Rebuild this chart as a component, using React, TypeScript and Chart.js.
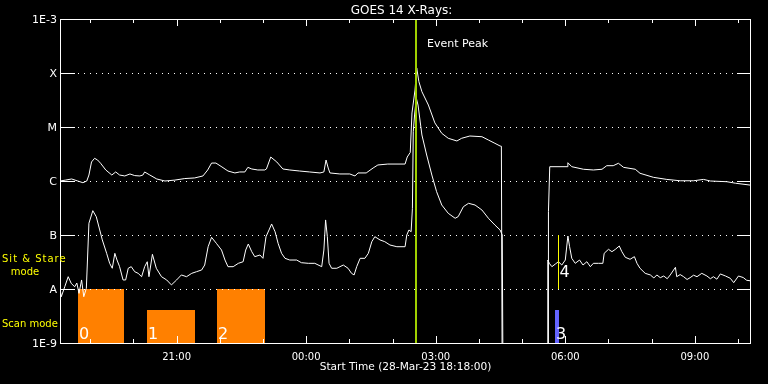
import React, { useEffect, useRef } from "react";
import { Chart, registerables } from "chart.js";

Chart.register(...registerables);

// Hours after start time (28-Mar-23 18:18:00)
const longHours = [
  0.0, 0.13, 0.27, 0.41, 0.53, 0.62, 0.67, 0.73, 0.8, 0.87, 0.94, 1.06, 1.2, 1.29, 1.38, 1.5, 1.62, 1.73, 1.85, 1.92,
  1.96, 2.08, 2.24, 2.43, 2.66, 2.89, 3.12, 3.31, 3.42, 3.51, 3.61, 3.75, 3.89, 4.05, 4.16, 4.28, 4.35, 4.44, 4.58, 4.74,
  4.78, 4.88, 5.02, 5.16, 5.32, 5.55, 5.78, 6.02, 6.11, 6.16, 6.21, 6.25, 6.48, 6.71, 6.83, 6.9, 7.09, 7.25, 7.36, 7.59,
  7.99, 8.04, 8.11, 8.15, 8.22, 8.26, 8.31, 8.38, 8.53, 8.68, 8.84, 8.99, 9.19, 9.3, 9.49, 9.77, 9.92, 10.07, 10.19, 10.22,
  10.24, 11.3, 11.31, 11.34, 11.74, 11.76, 11.85, 12.12, 12.35, 12.55, 12.66, 12.81, 12.93, 13.05, 13.32, 13.43, 13.74, 14.05, 14.36, 14.67,
  14.9, 15.06, 15.44, 15.64, 15.98,
];
// GOES long channel (1-8 A) flux, W/m^2
const longFlux = [
  1.0e-6, 1.04e-6, 1.09e-6, 1.0e-6, 0.93e-6, 1.0e-6, 1.29e-6, 2.25e-6, 2.63e-6, 2.45e-6, 2.13e-6, 1.6e-6, 1.29e-6, 1.47e-6, 1.29e-6, 1.24e-6, 1.35e-6, 1.26e-6, 1.24e-6, 1.29e-6,
  1.47e-6, 1.29e-6, 1.09e-6, 1.0e-6, 1.04e-6, 1.11e-6, 1.14e-6, 1.24e-6, 1.6e-6, 2.15e-6, 2.15e-6, 1.82e-6, 1.53e-6, 1.41e-6, 1.47e-6, 1.47e-6, 1.79e-6, 1.67e-6, 1.6e-6, 1.6e-6,
  1.67e-6, 2.78e-6, 2.25e-6, 1.67e-6, 1.6e-6, 1.53e-6, 1.47e-6, 1.41e-6, 1.47e-6, 2.45e-6, 1.74e-6, 1.41e-6, 1.35e-6, 1.35e-6, 1.24e-6, 1.41e-6, 1.41e-6, 1.74e-6, 1.98e-6, 2.06e-6,
  2.06e-6, 2.78e-6, 3.38e-6, 1.82e-5, 4.84e-5, 1.24e-4, 6.9e-5, 4.51e-5, 2.55e-5, 1.19e-5, 7.63e-6, 6.18e-6, 5.51e-6, 6.18e-6, 6.81e-6, 6.61e-6, 5.74e-6, 4.99e-6, 4.45e-6, 4.4e-6,
  1e-10, 1e-10, 2.7e-7, 1.84e-6, 1.84e-6, 2.18e-6, 1.84e-6, 1.65e-6, 1.6e-6, 1.65e-6, 1.92e-6, 1.92e-6, 2.13e-6, 1.79e-6, 1.65e-6, 1.39e-6, 1.17e-6, 1.07e-6, 1.01e-6, 1.01e-6,
  1.07e-6, 1.0e-6, 0.97e-6, 0.91e-6, 0.84e-6,
];

const shortHours = [
  0.0, 0.03, 0.11, 0.19, 0.26, 0.34, 0.39, 0.44, 0.5, 0.55, 0.61, 0.67, 0.76, 0.84, 0.92, 0.98, 1.08, 1.15, 1.21, 1.27,
  1.32, 1.38, 1.46, 1.52, 1.58, 1.65, 1.73, 1.81, 1.89, 1.96, 2.02, 2.06, 2.14, 2.23, 2.35, 2.47, 2.58, 2.7, 2.81, 2.93,
  3.05, 3.16, 3.28, 3.35, 3.43, 3.51, 3.62, 3.74, 3.82, 3.89, 4.01, 4.13, 4.24, 4.3, 4.36, 4.44, 4.51, 4.63, 4.7, 4.77,
  4.84, 4.9, 4.98, 5.05, 5.13, 5.21, 5.32, 5.48, 5.59, 5.75, 5.9, 6.06, 6.11, 6.15, 6.19, 6.23, 6.29, 6.41, 6.56, 6.67,
  6.75, 6.81, 6.87, 6.95, 7.06, 7.14, 7.22, 7.29, 7.41, 7.52, 7.64, 7.8, 7.99, 8.03, 8.08, 8.13, 8.16, 8.18, 8.21, 8.25,
  8.29, 8.38, 8.49, 8.61, 8.72, 8.84, 8.99, 9.15, 9.22, 9.34, 9.46, 9.61, 9.77, 9.92, 10.07, 10.19, 10.24, 10.26, 11.29, 11.295,
  11.33, 11.39, 11.47, 11.54, 11.62, 11.7, 11.76, 11.8, 11.85, 11.93, 12.03, 12.11, 12.2, 12.28, 12.35, 12.47, 12.57, 12.6, 12.7, 12.78,
  12.86, 12.95, 13.01, 13.09, 13.2, 13.3, 13.36, 13.43, 13.55, 13.67, 13.75, 13.82, 13.9, 13.98, 14.06, 14.13, 14.25, 14.28, 14.36, 14.44,
  14.52, 14.59, 14.67, 14.75, 14.86, 14.98, 15.06, 15.13, 15.21, 15.29, 15.41, 15.52, 15.6, 15.71, 15.82, 15.9, 15.98,
];
// GOES short channel (0.5-4 A) flux, W/m^2
const shortFlux = [
  1.0e-8, 7.2e-9, 1.1e-8, 1.69e-8, 1.27e-8, 1.1e-8, 1.29e-8, 8.3e-9, 1.47e-8, 7.2e-9, 1.03e-8, 1.65e-7, 2.82e-7, 2.18e-7, 1.24e-7, 8.1e-8, 4.58e-8, 2.99e-8, 2.42e-8, 4.58e-8,
  3.44e-8, 2.59e-8, 1.47e-8, 1.47e-8, 2.42e-8, 2.59e-8, 2.09e-8, 1.95e-8, 1.69e-8, 2.59e-8, 3.2e-8, 1.69e-8, 4.39e-8, 2.42e-8, 1.69e-8, 1.47e-8, 1.19e-8, 1.47e-8, 1.82e-8, 1.69e-8,
  1.95e-8, 2.09e-8, 2.25e-8, 2.78e-8, 6.07e-8, 9.06e-8, 7.02e-8, 5.27e-8, 3.44e-8, 2.59e-8, 2.59e-8, 2.99e-8, 3.2e-8, 5.27e-8, 6.81e-8, 4.91e-8, 3.97e-8, 4.26e-8, 3.7e-8, 9.3e-8,
  1.24e-7, 1.6e-7, 1.15e-7, 7.02e-8, 4.58e-8, 3.7e-8, 3.44e-8, 3.44e-8, 3.07e-8, 2.99e-8, 2.99e-8, 2.59e-8, 5.27e-8, 1.9e-7, 9.3e-8, 2.99e-8, 2.42e-8, 2.42e-8, 2.78e-8, 2.42e-8,
  1.95e-8, 1.82e-8, 2.59e-8, 3.7e-8, 3.7e-8, 4.58e-8, 7.52e-8, 9.3e-8, 8.1e-8, 7.52e-8, 6.53e-8, 6.07e-8, 6.07e-8, 1.0e-7, 1.24e-7, 1.15e-7, 3.12e-7, 8.18e-6, 1.67e-5, 3.44e-5,
  2.55e-5, 7.11e-6, 3.03e-6, 1.29e-6, 6.34e-7, 3.59e-7, 2.52e-7, 2.04e-7, 2.19e-7, 3.34e-7, 3.86e-7, 3.59e-7, 2.9e-7, 2.04e-7, 1.53e-7, 1.24e-7, 1.0e-7, 1e-10, 1e-10, 3.44e-8,
  2.99e-8, 2.59e-8, 2.9e-8, 3.2e-8, 2.78e-8, 3.44e-8, 9.58e-8, 6.07e-8, 3.7e-8, 2.99e-8, 3.44e-8, 2.78e-8, 3.2e-8, 2.59e-8, 2.99e-8, 2.99e-8, 2.99e-8, 4.58e-8, 5.43e-8, 4.91e-8,
  5.43e-8, 6.26e-8, 4.91e-8, 3.86e-8, 3.55e-8, 3.97e-8, 2.99e-8, 2.42e-8, 1.95e-8, 1.82e-8, 1.6e-8, 1.82e-8, 1.62e-8, 1.74e-8, 1.55e-8, 1.82e-8, 2.52e-8, 1.69e-8, 1.85e-8, 1.69e-8,
  1.5e-8, 1.62e-8, 1.8e-8, 1.69e-8, 1.95e-8, 1.74e-8, 1.55e-8, 1.69e-8, 1.52e-8, 1.9e-8, 1.74e-8, 1.58e-8, 1.31e-8, 1.74e-8, 1.63e-8, 1.45e-8, 1.42e-8,
];

// Observing modes: scan mode blocks (0-3) and sit & stare marker (4)
const scanLabels = ["0", "1", "2", "3"];
const scanStart = [0.41, 2.01, 3.63, 11.46];
const scanEnd = [1.49, 3.12, 4.74, 11.56];
const scanTop = [1.0e-8, 4.1e-9, 1.0e-8, 4.1e-9];
const scanColors = ["#ff8000", "#ff8000", "#ff8000", "#6464ff"];
const stareLabel = "4";
const stareHour = 11.54;
const stareLow = 1.0e-8;
const stareHigh = 1.0e-7;

const eventPeakHour = 8.24;
const eventPeakText = "Event Peak";

const yLevels = [1e-9, 1e-8, 1e-7, 1e-6, 1e-5, 1e-4, 1e-3];
const yLabels = ["1E-9", "A", "B", "C", "M", "X", "1E-3"];
const majorTickHours = [2.7, 5.7, 8.7, 11.7, 14.7];
const majorTickLabels = ["21:00", "00:00", "03:00", "06:00", "09:00"];
const minorTickHours = [0.7, 1.7, 3.7, 4.7, 6.7, 7.7, 9.7, 10.7, 12.7, 13.7, 15.7];

const titleText = "GOES 14 X-Rays:";
const xTitleText = "Start Time (28-Mar-23 18:18:00)";

const FONT = '"DejaVu Sans", sans-serif';

const overlay = {
  id: "goesOverlay",
  beforeDatasetsDraw(chart: any) {
    const ctx = chart.ctx;
    const { left, right, bottom } = chart.chartArea;
    const xs = chart.scales.x;
    const ys = chart.scales.y;
    ctx.save();
    // scan mode blocks
    scanStart.forEach((s, i) => {
      const x0 = Math.round(xs.getPixelForValue(s));
      const x1 = Math.round(xs.getPixelForValue(scanEnd[i]));
      const yt = Math.round(ys.getPixelForValue(scanTop[i]));
      ctx.fillStyle = scanColors[i];
      ctx.fillRect(x0, yt, x1 - x0, bottom - yt);
    });
    // dotted level lines
    ctx.strokeStyle = "#ffffff";
    ctx.lineWidth = 1;
    ctx.setLineDash([1, 5]);
    yLevels.slice(1, -1).forEach((v) => {
      const y = Math.round(ys.getPixelForValue(v)) + 0.5;
      ctx.beginPath();
      ctx.moveTo(left + 18, y);
      ctx.lineTo(right - 14, y);
      ctx.stroke();
    });
    ctx.setLineDash([]);
    ctx.restore();
  },
  afterDatasetsDraw(chart: any) {
    const ctx = chart.ctx;
    const { left, right, top, bottom } = chart.chartArea;
    const xs = chart.scales.x;
    const ys = chart.scales.y;
    ctx.save();

    // sit & stare marker
    const sx = Math.round(xs.getPixelForValue(stareHour)) + 0.5;
    ctx.strokeStyle = "#ffff00";
    ctx.lineWidth = 1;
    ctx.beginPath();
    ctx.moveTo(sx, ys.getPixelForValue(stareHigh));
    ctx.lineTo(sx, ys.getPixelForValue(stareLow));
    ctx.stroke();

    // event peak line
    const ex = Math.round(xs.getPixelForValue(eventPeakHour));
    ctx.strokeStyle = "#a0d000";
    ctx.lineWidth = 2;
    ctx.beginPath();
    ctx.moveTo(ex, top);
    ctx.lineTo(ex, bottom);
    ctx.stroke();

    // labels
    ctx.fillStyle = "#ffffff";
    ctx.font = `16px ${FONT}`;
    ctx.textAlign = "left";
    ctx.textBaseline = "alphabetic";
    scanLabels.forEach((t, i) => {
      const x0 = Math.round(xs.getPixelForValue(scanStart[i]));
      ctx.fillText(t, x0 + 1, bottom - 4);
    });
    ctx.fillText(stareLabel, sx + 1, ys.getPixelForValue(stareLow) - 12);

    ctx.font = `11px ${FONT}`;
    ctx.fillText(eventPeakText, ex + 11, 47);

    // frame
    ctx.strokeStyle = "#ffffff";
    ctx.lineWidth = 1;
    ctx.strokeRect(left + 0.5, top + 0.5, right - left - 1, bottom - top);

    // y ticks
    yLevels.forEach((v) => {
      const y = Math.round(ys.getPixelForValue(v)) + 0.5;
      ctx.beginPath();
      ctx.moveTo(left, y);
      ctx.lineTo(left + 15, y);
      ctx.moveTo(right - 14, y);
      ctx.lineTo(right, y);
      ctx.stroke();
    });
    // x ticks
    const tick = (h: number, len: number) => {
      const x = Math.round(xs.getPixelForValue(h)) + 0.5;
      ctx.beginPath();
      ctx.moveTo(x, bottom);
      ctx.lineTo(x, bottom - len);
      ctx.moveTo(x, top);
      ctx.lineTo(x, top + len);
      ctx.stroke();
    };
    minorTickHours.forEach((h) => tick(h, 4));
    majorTickHours.forEach((h) => tick(h, 7));

    // y labels
    ctx.font = `11px ${FONT}`;
    ctx.textAlign = "right";
    ctx.textBaseline = "middle";
    yLevels.forEach((v, i) => {
      ctx.fillText(yLabels[i], left - 3, ys.getPixelForValue(v) + 1);
    });

    // x labels
    ctx.font = `10px ${FONT}`;
    ctx.textAlign = "center";
    ctx.textBaseline = "alphabetic";
    majorTickHours.forEach((h, i) => {
      ctx.fillText(majorTickLabels[i], xs.getPixelForValue(h), bottom + 17);
    });
    ctx.font = `10.6px ${FONT}`;
    ctx.fillText(xTitleText, (left + right) / 2, bottom + 27);

    // title
    ctx.font = `12px ${FONT}`;
    ctx.fillText(titleText, (left + right) / 2 - 4, 14);

    // mode labels
    ctx.fillStyle = "#ffff00";
    ctx.font = `10px ${FONT}`;
    ctx.textAlign = "left";
    (ctx as any).letterSpacing = "1px";
    ctx.fillText("Sit & Stare", 2, 262);
    (ctx as any).letterSpacing = "0px";
    ctx.textAlign = "center";
    ctx.fillText("mode", 25, 275);
    ctx.textAlign = "left";
    ctx.fillText("Scan mode", 2, 327);

    ctx.restore();
  },
};

export default function App() {
  const ref = useRef<HTMLCanvasElement | null>(null);

  useEffect(() => {
    document.body.style.margin = "0";
    document.body.style.background = "#000";
    const canvas = ref.current;
    if (!canvas) return;
    const chart = new Chart(canvas, {
      type: "line",
      data: {
        datasets: [
          {
            label: "1-8 A",
            data: longHours.map((h, i) => ({ x: h, y: longFlux[i] })),
            borderColor: "#ffffff",
            borderWidth: 1,
            pointRadius: 0,
            tension: 0,
          },
          {
            label: "0.5-4 A",
            data: shortHours.map((h, i) => ({ x: h, y: shortFlux[i] })),
            borderColor: "#ffffff",
            borderWidth: 1,
            pointRadius: 0,
            tension: 0,
          },
        ],
      },
      options: {
        responsive: false,
        devicePixelRatio: 1,
        animation: false,
        events: [],
        layout: { padding: { left: 60, right: 17, top: 19, bottom: 41 } },
        scales: {
          x: { type: "linear", min: 0, max: 16, display: false },
          y: { type: "logarithmic", min: 1e-9, max: 1e-3, display: false },
        },
        plugins: {
          legend: { display: false },
          tooltip: { enabled: false },
          title: { display: false },
        },
      },
      plugins: [overlay],
    });
    return () => chart.destroy();
  }, []);

  return (
    <div style={{ position: "fixed", left: 0, top: 0, width: 768, height: 384, background: "#000" }}>
      <canvas ref={ref} width={768} height={384} style={{ display: "block" }} />
    </div>
  );
}
